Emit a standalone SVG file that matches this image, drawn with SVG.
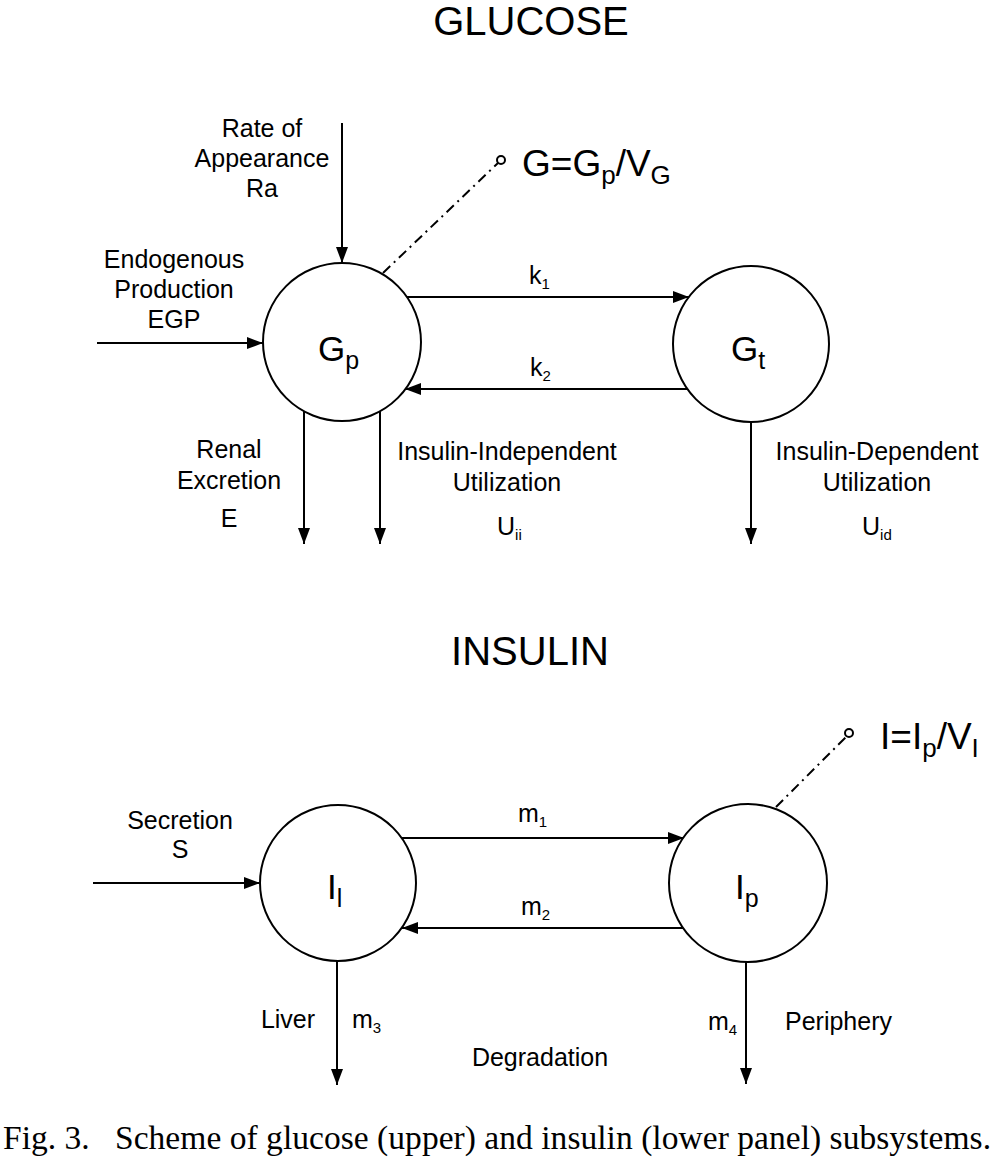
<svg xmlns="http://www.w3.org/2000/svg" width="998" height="1159" viewBox="0 0 998 1159">
<style>
.t{font-family:"Liberation Sans",Arial,sans-serif;font-size:25px;fill:#000}
.c{text-anchor:middle}
.big{font-family:"Liberation Sans",Arial,sans-serif;font-size:40px;fill:#000}
.lbl{font-family:"Liberation Sans",Arial,sans-serif;font-size:35px;fill:#000}
.eq{font-family:"Liberation Sans",Arial,sans-serif;font-size:37px;fill:#000}
.node{fill:#fff;stroke:#000;stroke-width:2}
.ln{stroke:#000;stroke-width:2;fill:none}
.arr{marker-end:url(#ah)}
.dd{stroke:#000;stroke-width:2;stroke-dasharray:10,5,2,5;fill:none}
.dot{fill:#fff;stroke:#000;stroke-width:2}
.cap{font-family:"Liberation Serif","Times New Roman",serif;font-size:33.5px;fill:#000}
</style>
<defs>
<marker id="ah" markerUnits="userSpaceOnUse" markerWidth="16" markerHeight="12" refX="16" refY="6" orient="auto">
<path d="M0,0 L16,6 L0,12 z" fill="#000"/>
</marker>
</defs>
<rect width="998" height="1159" fill="#fff"/>

<text class="big c" x="531" y="35">GLUCOSE</text>
<text class="big c" x="530" y="665">INSULIN</text>

<g id="connectors">
<line class="ln arr" x1="342" y1="123" x2="342" y2="263"/>
<line class="ln arr" x1="97" y1="343" x2="263" y2="343"/>
<line class="ln arr" x1="407" y1="297" x2="689" y2="297"/>
<line class="ln arr" x1="687" y1="389" x2="405" y2="389"/>
<line class="ln arr" x1="304" y1="411" x2="304" y2="544"/>
<line class="ln arr" x1="380" y1="411" x2="380" y2="544"/>
<line class="ln arr" x1="751" y1="422" x2="751" y2="544"/>
<line class="dd" x1="383" y1="273" x2="498" y2="163"/>
<circle class="dot" cx="501" cy="160" r="4"/>

<line class="ln arr" x1="93" y1="883" x2="260" y2="883"/>
<line class="ln arr" x1="402" y1="838" x2="684" y2="838"/>
<line class="ln arr" x1="684" y1="928" x2="402" y2="928"/>
<line class="ln arr" x1="337" y1="961" x2="337" y2="1085"/>
<line class="ln arr" x1="746" y1="962" x2="746" y2="1084"/>
<line class="dd" x1="776" y1="807" x2="846" y2="737"/>
<circle class="dot" cx="849" cy="733" r="4"/>
</g>

<g id="node-Gp">
<circle class="node" cx="342" cy="342" r="79"/>
<text class="lbl" x="318" y="361">G<tspan font-size="25" dy="8">p</tspan></text>
</g>
<g id="node-Gt">
<circle class="node" cx="751" cy="344" r="78"/>
<text class="lbl" x="731" y="361">G<tspan font-size="25" dy="8">t</tspan></text>
</g>
<g id="node-Il">
<circle class="node" cx="338" cy="883" r="78"/>
<text class="lbl" x="327" y="899">I<tspan font-size="25" dy="8">l</tspan></text>
</g>
<g id="node-Ip">
<circle class="node" cx="748" cy="883" r="79"/>
<text class="lbl" x="735" y="899">I<tspan font-size="25" dy="8">p</tspan></text>
</g>

<g id="labels">
<text class="t c" x="262" y="137">Rate of</text>
<text class="t c" x="262" y="167">Appearance</text>
<text class="t c" x="262" y="197">Ra</text>
<text class="eq" x="522" y="176">G=G<tspan font-size="26" dy="8">p</tspan><tspan dy="-8">/V</tspan><tspan font-size="26" dy="8">G</tspan></text>
<text class="t c" x="174" y="268">Endogenous</text>
<text class="t c" x="174" y="298">Production</text>
<text class="t c" x="174" y="328">EGP</text>
<text class="t" x="529" y="284">k<tspan font-size="15" dy="5">1</tspan></text>
<text class="t" x="530" y="376">k<tspan font-size="15" dy="5">2</tspan></text>
<text class="t c" x="229" y="458">Renal</text>
<text class="t c" x="229" y="489">Excretion</text>
<text class="t c" x="229" y="527">E</text>
<text class="t c" x="507" y="460">Insulin-Independent</text>
<text class="t c" x="507" y="491">Utilization</text>
<text class="t" x="497" y="535">U<tspan font-size="15" dy="5">ii</tspan></text>
<text class="t c" x="877" y="460">Insulin-Dependent</text>
<text class="t c" x="877" y="491">Utilization</text>
<text class="t" x="862" y="535">U<tspan font-size="15" dy="5">id</tspan></text>

<text class="t c" x="180" y="829">Secretion</text>
<text class="t c" x="180" y="858">S</text>
<text class="t" x="518" y="822">m<tspan font-size="15" dy="5">1</tspan></text>
<text class="t" x="521" y="915">m<tspan font-size="15" dy="5">2</tspan></text>
<text class="eq" x="880" y="749">I=I<tspan font-size="26" dy="8">p</tspan><tspan dy="-8">/V</tspan><tspan font-size="26" dy="8">I</tspan></text>
<text class="t c" x="288" y="1028">Liver</text>
<text class="t" x="352" y="1028">m<tspan font-size="15" dy="5">3</tspan></text>
<text class="t" x="708" y="1030">m<tspan font-size="15" dy="5">4</tspan></text>
<text class="t" x="785" y="1030">Periphery</text>
<text class="t c" x="540" y="1066">Degradation</text>
</g>

<text class="cap" x="3" y="1149">Fig. 3.</text>
<text class="cap" x="115" y="1149" textLength="876">Scheme of glucose (upper) and insulin (lower panel) subsystems.</text>
</svg>
